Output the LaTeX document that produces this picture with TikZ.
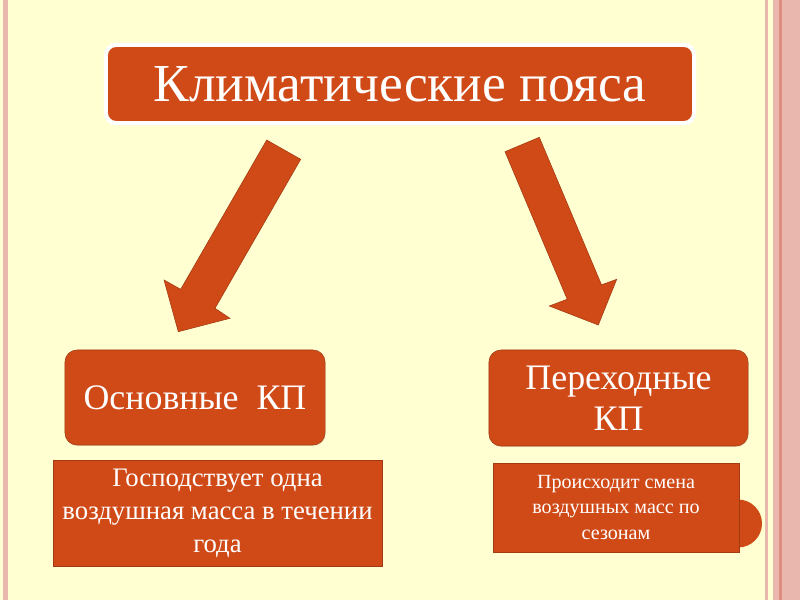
\documentclass[tikz,border=0pt]{standalone}
\usepackage{fontspec}
\setmainfont{Liberation Serif}
\usepackage{tikz}
\usetikzlibrary{positioning, shadows}

\definecolor{cream}{HTML}{FFFFD2}
\definecolor{stripe}{HTML}{E9B7AE}
\definecolor{stripedark}{HTML}{DE8E80}
\definecolor{brick}{HTML}{D04A18}
\definecolor{brickdark}{HTML}{A23A12}

\begin{document}
\begin{tikzpicture}[
    x=0.025cm, y=-0.025cm,
    % Boxes
    titlebox/.style={
        rectangle, rounded corners=0.25cm, fill=brick, draw=white,
        line width=0.1cm, text=white, font=\fontsize{38}{44}\selectfont,
        minimum width=14.7cm, minimum height=1.95cm,
        drop shadow={opacity=0.3, shadow xshift=0.5pt, shadow yshift=-1.2pt}
    },
    zonebox/.style={
        rectangle, rounded corners=0.3cm, fill=brick, draw=brickdark,
        thin, text=white, align=center, font=\fontsize{25.5}{29}\selectfont,
        drop shadow={opacity=0.15, shadow xshift=0.5pt, shadow yshift=-0.8pt}
    },
    notebox/.style={
        rectangle, fill=brick, draw=brickdark, thin, text=white,
        align=center,
        drop shadow={opacity=0.15, shadow xshift=0.5pt, shadow yshift=-0.8pt}
    },
    % Arrows
    blockarrow/.style={fill=brick, draw=brickdark, thin, line join=miter}
]

    % --- BACKGROUND ---
    \fill[cream] (0,0) rectangle (800,600);
    \fill[stripe] (3,0) rectangle (8,600);
    \fill[stripe] (764.5,0) rectangle (768,600);
    \fill[stripe] (773,0) rectangle (800,600);
    \fill[stripedark] (779,0) rectangle (781.5,600);
    \fill[brick] (738,523.5) circle (0.6cm);

    % --- TITLE ---
    \node[titlebox] (title) at (400,84) {Климатические пояса};

    % --- ARROWS ---
    \draw[blockarrow] (266.7,140) -- (300.7,159.3) -- (215,308.3) -- (230,318.3)
        -- (178.3,331.7) -- (164,280) -- (180.7,289.3) -- cycle;
    \draw[blockarrow] (505,151.7) -- (539.3,137.3) -- (601.5,284.8) -- (616.7,279.3)
        -- (598.3,325) -- (549.3,306) -- (567.2,299.2) -- cycle;

    % --- ZONES ---
    \node[zonebox, minimum width=6.5cm, minimum height=2.375cm]
        (main) at (195,397.5) {Основные\ \ КП};
    \node[zonebox, minimum width=6.475cm, minimum height=2.4cm]
        (trans) at (618.5,398) {Переходные\\КП};

    % --- NOTES ---
    \node[notebox, minimum width=8.225cm, minimum height=2.65cm,
        font=\fontsize{19}{23.5}\selectfont]
        (mainnote) at (217.5,513) {Господствует одна\\воздушная масса в течении\\года};
    \node[notebox, minimum width=6.15cm, minimum height=2.225cm,
        font=\fontsize{14.3}{17.8}\selectfont]
        (transnote) at (616,507.5) {Происходит смена\\воздушных масс по\\сезонам};

\end{tikzpicture}
\end{document}
